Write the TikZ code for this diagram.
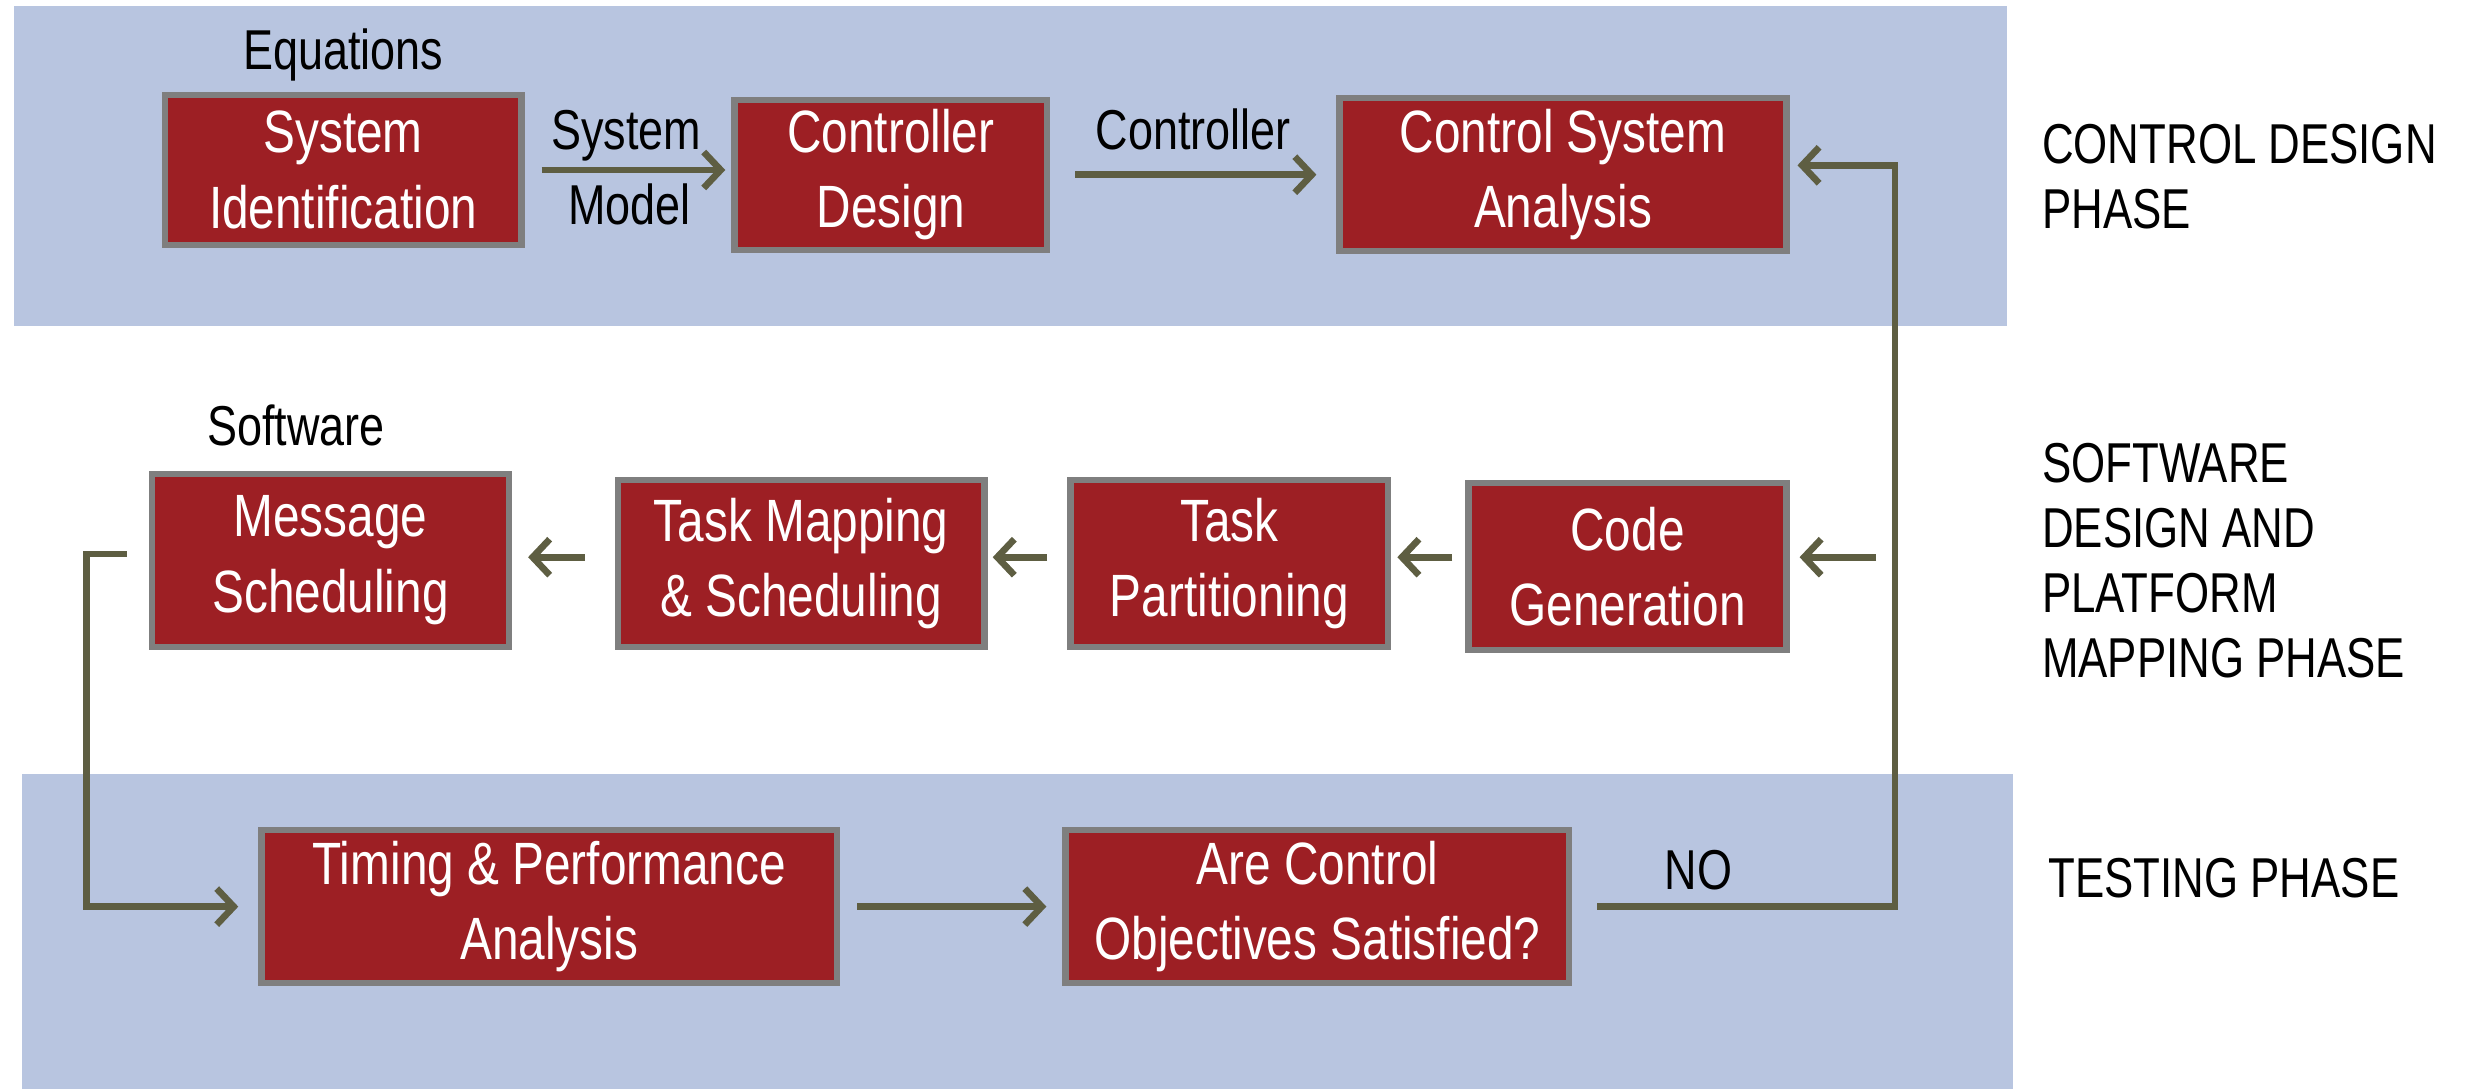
\documentclass[tikz,border=0pt]{standalone}
\usepackage{fontspec}
\setmainfont{Liberation Sans}[FakeStretch=0.8]
\newfontfamily\phasefont{Liberation Sans}[FakeStretch=0.78]
\usetikzlibrary{arrows.meta}

\definecolor{bandblue}{HTML}{B8C5E0}
\definecolor{boxred}{HTML}{9D1F24}
\definecolor{boxgray}{HTML}{7F7F7F}
\definecolor{flowolive}{HTML}{5E5E42}

\tikzset{
  stage/.style={draw=boxgray, line width=1.8pt, fill=boxred, text=white,
    align=center, inner sep=0pt, font=\fontsize{17}{21.5}\selectfont},
  note/.style={inner sep=0pt, font=\fontsize{16}{20}\selectfont},
  phase/.style={inner sep=0pt, align=left, anchor=west, font=\phasefont\fontsize{16}{18.5}\selectfont},
  flow/.style={draw=flowolive, line width=1.9pt,
    -{Straight Barb[length=0.17cm, width=0.36cm, line width=1.9pt]}}
}

\begin{document}
\begin{tikzpicture}[x=0.01574cm, y=-0.01574cm]
  \useasboundingbox (0,0) rectangle (1568,692);
  % phase bands
  \fill[bandblue] (9,4) rectangle (1275,207);
  \fill[bandblue] (14,492) rectangle (1279,692);

  % control design phase
  \node[stage, minimum width=3.57cm, minimum height=1.50cm] (sysid) at (218,108) {System\\Identification};
  \node[stage, minimum width=3.13cm, minimum height=1.50cm] (ctrl) at (566,111) {Controller\\Design};
  \node[stage, minimum width=4.47cm, minimum height=1.53cm] (csa) at (993,111) {Control System\\Analysis};
  \node[note] (eqn) at (218,35) {Equations};
  \node[note] (sysmod) at (398,86) {System};
  \node[note] (sysmodb) at (400,130) {Model};
  \node[note] (ctrlout) at (758,82) {Controller};

  % software design and platform mapping phase
  \node[stage, minimum width=3.57cm, minimum height=1.73cm] (msg) at (210,356) {Message\\Scheduling};
  \node[stage, minimum width=3.67cm, minimum height=1.67cm] (tmap) at (509,358) {Task Mapping\\\& Scheduling};
  \node[stage, minimum width=3.18cm, minimum height=1.67cm] (tpart) at (781,358) {Task\\Partitioning};
  \node[stage, minimum width=3.18cm, minimum height=1.67cm] (cgen) at (1034,360) {Code\\Generation};
  \node[note] (sw) at (188,270) {Software};

  % testing phase
  \node[stage, minimum width=5.76cm, minimum height=1.53cm] (timing) at (349,576) {Timing \& Performance\\Analysis};
  \node[stage, minimum width=5.04cm, minimum height=1.53cm] (obj) at (837,576) {Are Control\\Objectives Satisfied?};
  \node[note] (no) at (1079,553) {NO};

  % phase names
  \node[phase] (ph1) at (1297,112) {CONTROL DESIGN\\PHASE};
  \node[phase] (ph2) at (1297,356) {SOFTWARE\\DESIGN AND\\PLATFORM\\MAPPING PHASE};
  \node[phase] (ph3) at (1301,558) {TESTING PHASE};

  % connectors
  \coordinate (cgenin) at (1192,354);
  \coordinate (loopl) at (55,352);
  \coordinate (loopr) at (1204,105);

  \draw[flow, shorten <=0.17cm, shorten >=0.06cm] (sysid.east) -- (sysid.east -| ctrl.west);
  \draw[flow, shorten <=0.25cm, shorten >=0.2cm] (ctrl.east) -- (ctrl.east -| csa.west);

  \draw[flow, shorten >=0.1cm] (cgenin) -- (cgenin -| cgen.east);
  \draw[flow, shorten <=0.13cm, shorten >=0.06cm] (cgenin -| cgen.west) -- (cgenin -| tpart.east);
  \draw[flow, shorten <=0.2cm, shorten >=0.05cm] (cgenin -| tpart.west) -- (cgenin -| tmap.east);
  \draw[flow, shorten <=0.3cm, shorten >=0.16cm] (cgenin -| tmap.west) -- (cgenin -| msg.east);
  \draw[flow, shorten <=0.22cm, shorten >=0.2cm] (loopl -| msg.west) -- (loopl) |- (timing.west);

  \draw[flow, shorten <=0.17cm, shorten >=0.16cm] (timing.east) -- (obj.west);
  \draw[flow, shorten <=0.25cm, shorten >=0.08cm] (obj.east) -| (loopr) -- (loopr -| csa.east);
\end{tikzpicture}
\end{document}
